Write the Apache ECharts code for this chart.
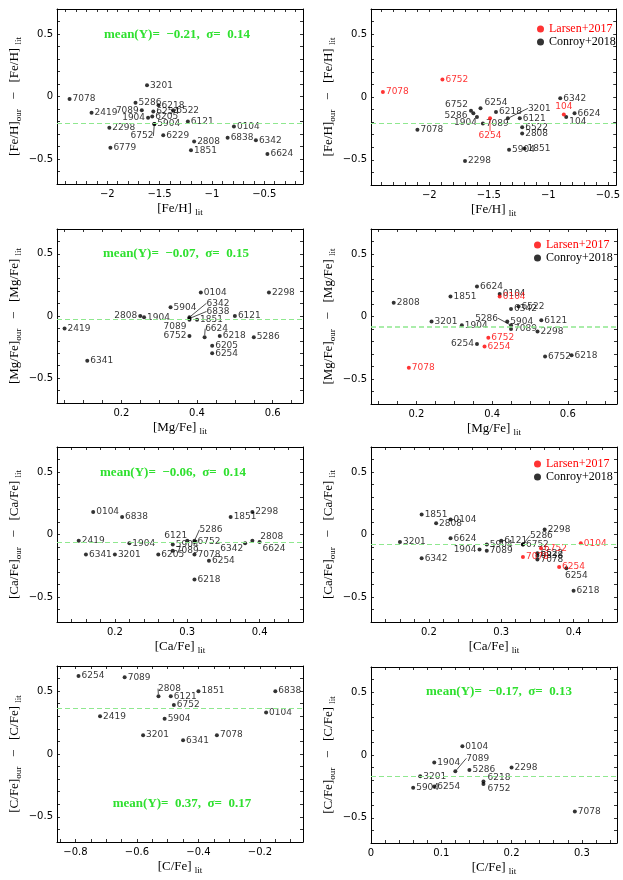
<!DOCTYPE html>
<html>
<head>
<meta charset="utf-8">
<script src="https://cdn.jsdelivr.net/npm/echarts@6.0.0/dist/echarts.min.js"></script>
<style>
html,body{margin:0;padding:0;background:#fff;}
#container{width:623px;height:880px;}
</style>
</head>
<body>
<div id="container"></div>
<script>
// [Fe/H] vs lit, left panel
var feL_names = ['7078','2419','2298','6779','3201','5286','7089','6218','6254','6522','1904','6205','5904','6752','6229','6121','2808','1851','0104','6838','6342','6624'];
var feL_x = [-2.36,-2.15,-1.98,-1.97,-1.62,-1.73,-1.67,-1.51,-1.56,-1.37,-1.61,-1.57,-1.55,-1.55,-1.465,-1.23,-1.17,-1.20,-0.79,-0.85,-0.58,-0.47];
var feL_y = [-0.02,-0.13,-0.25,-0.41,0.09,-0.05,-0.11,-0.07,-0.12,-0.11,-0.17,-0.16,-0.22,-0.22,-0.31,-0.20,-0.36,-0.43,-0.24,-0.33,-0.35,-0.46];
var feL_mean = -0.21;
var feL_text = 'mean(Y)=  \u22120.21,  \u03c3=  0.14';

// [Fe/H] right panel (Larsen / Conroy)
var feR_lar_names = ['7078','6752','6254','104'];
var feR_lar_x = [-2.39,-1.89,-1.49,-0.87];
var feR_lar_y = [0.04,0.14,-0.17,-0.14];
var feR_con_names = ['7078','6752','5286','1904','6254','7089','6218','3201','6121','6522','2808','5904','1851','2298','6342','104','6624'];
var feR_con_x = [-2.10,-1.65,-1.63,-1.60,-1.57,-1.55,-1.44,-1.34,-1.24,-1.22,-1.22,-1.33,-1.20,-1.70,-0.90,-0.85,-0.78];
var feR_con_y = [-0.26,-0.11,-0.13,-0.16,-0.09,-0.21,-0.12,-0.17,-0.17,-0.24,-0.29,-0.42,-0.41,-0.51,-0.01,-0.16,-0.13];
var feR_mean = -0.21;

// [Mg/Fe] left
var mgL_names = ['2419','6341','2808','1904','5904','0104','6342','6838','7089','1851','6121','2298','6752','6624','6218','5286','6205','6254'];
var mgL_x = [0.05,0.11,0.25,0.26,0.33,0.41,0.38,0.38,0.38,0.40,0.50,0.59,0.38,0.42,0.46,0.55,0.44,0.44];
var mgL_y = [-0.10,-0.36,0.0,-0.01,0.07,0.19,-0.01,-0.02,-0.03,-0.03,0.0,0.19,-0.16,-0.17,-0.16,-0.17,-0.24,-0.30];
var mgL_mean = -0.03;
var mgL_text = 'mean(Y)=  \u22120.07,  \u03c3=  0.15';

// [Mg/Fe] right
var mgR_lar_names = ['0104','6752','6254','7078'];
var mgR_lar_x = [0.42,0.39,0.38,0.18];
var mgR_lar_y = [0.16,-0.17,-0.24,-0.41];
var mgR_con_names = ['2808','1851','6624','0104','6522','6342','3201','1904','5904','5286','7089','2298','6121','6254','6752','6218'];
var mgR_con_x = [0.14,0.29,0.36,0.42,0.47,0.45,0.24,0.32,0.44,0.45,0.45,0.52,0.53,0.36,0.54,0.61];
var mgR_con_y = [0.11,0.16,0.24,0.18,0.08,0.06,-0.04,-0.07,-0.04,-0.07,-0.10,-0.12,-0.03,-0.22,-0.32,-0.31];
var mgR_mean = -0.08;

// [Ca/Fe] left
var caL_names = ['0104','6838','2419','1904','6341','3201','6205','6121','5904','7089','5286','6752','7078','6254','6218','1851','2298','6342','2808','6624'];
var caL_x = [0.17,0.21,0.15,0.22,0.16,0.20,0.26,0.30,0.28,0.28,0.31,0.31,0.31,0.33,0.31,0.36,0.39,0.38,0.39,0.40];
var caL_y = [0.18,0.14,-0.05,-0.07,-0.16,-0.16,-0.16,-0.05,-0.08,-0.13,-0.05,-0.06,-0.16,-0.21,-0.36,0.14,0.18,-0.07,-0.05,-0.06];
var caL_mean = -0.06;
var caL_text = 'mean(Y)=  \u22120.06,  \u03c3=  0.14';

// [Ca/Fe] right
var caR_lar_names = ['0104','6752','7078','6254'];
var caR_lar_x = [0.41,0.355,0.33,0.38];
var caR_lar_y = [-0.07,-0.11,-0.18,-0.26];
var caR_con_names = ['1851','0104','2808','6624','3201','6342','5904','1904','7089','6121','6752','5286','2298','6522','6838','7078','6254','6218'];
var caR_con_x = [0.19,0.23,0.21,0.23,0.16,0.19,0.28,0.27,0.28,0.30,0.33,0.33,0.36,0.35,0.35,0.35,0.39,0.40];
var caR_con_y = [0.16,0.12,0.09,-0.03,-0.06,-0.19,-0.08,-0.12,-0.13,-0.05,-0.08,-0.08,0.04,-0.15,-0.17,-0.20,-0.27,-0.45];
var caR_mean = -0.08;

// [C/Fe] left
var cL_names = ['6254','7089','2808','6121','1851','6752','6838','2419','5904','0104','3201','6341','7078'];
var cL_x = [-0.79,-0.64,-0.53,-0.49,-0.40,-0.48,-0.15,-0.72,-0.51,-0.18,-0.58,-0.45,-0.34];
var cL_y = [0.62,0.61,0.46,0.46,0.50,0.39,0.50,0.30,0.28,0.33,0.15,0.11,0.15];
var cL_mean = 0.36;
var cL_text = 'mean(Y)=  0.37,  \u03c3=  0.17';

// [C/Fe] right
var cR_names = ['0104','1904','7089','5286','2298','3201','5904','6254','6218','6752','7078'];
var cR_x = [0.13,0.09,0.12,0.14,0.20,0.07,0.06,0.09,0.16,0.16,0.29];
var cR_y = [0.07,-0.06,-0.13,-0.12,-0.10,-0.17,-0.26,-0.25,-0.21,-0.23,-0.45];
var cR_mean = -0.17;
var cR_text = 'mean(Y)=  \u22120.17,  \u03c3=  0.13';

// label placement: r/l/t/b or [side, dx, dy, leaderLine]
var feL_lab = ['r','r','r','r','r','r','l','r','r','r','l','r','r',['l',2,12,1],'r','r','r','r','r','r','r','r'];
var feR_lar_lab = ['r','r',['b',0,10,1],'t'];
var feR_con_lab = ['r',['l',0,-6,0],['l',-3,2,0],['l',3,6,0],['r',1,-6,0],'r','r',['r',17,-10,1],'r','r','r','r','r','r','r',['r',0,5,0],'r'];
var mgL_lab = ['r','r','l','r','r','r',['r',14,-14,1],['r',14,-7,1],['l',0,7,0],'r','r','r','l',['t',12,-1,1],'r','r','r','r'];
var mgR_lar_lab = ['r','r','r','r'];
var mgR_con_lab = ['r','r','r','r','r','r','r','r','r',['l',-10,-7,1],'r','r','r','l','r','r'];
var caL_lab = ['r','r','r','r','r','r','r',['l',3,-5,0],'r','r',['r',2,-11,1],'r','r','r','r','r','r',['l',1,5,0],['r',5,-4,0],['r',0,7,0]];
var caR_lar_lab = ['r','r','r','r'];
var caR_con_lab = ['r','r','r','r','r','r','r','l','r','r','r',['r',4,-9,1],'r','r','r','r',['b',10,0,0],'r'];
var cL_lab = ['r','r',['t',11,0,1],'r','r','r','r','r','r','r','r','r','r'];
var cR_lab = ['r','r',['r',8,-13,1],'r','r','r','r','r',['r',1,-4,0],['r',1,5,0],'r'];

var RED = '#ff0000';
var GREEN_TXT = '#2fe02f';
var GREEN_LINE = '#8fe88f';
var posMap = {r:'right', l:'left', t:'top', b:'bottom'};

function tickFmt(step){
	return function(v){
		var k = v / step;
		if(Math.abs(k - Math.round(k)) > 1e-6){
			return '';
		}
		var s = (Math.round(v * 100) / 100).toString();
		return s.replace('-', '\u2212');
	};
}

function buildItems(names, xs, ys, labs, color){
	var items = [];
	for(var i=0;i<names.length;i++){
		var s = labs[i];
		var side = typeof s === 'string' ? s : s[0];
		var it = {name:names[i], value:[xs[i], ys[i]], label:{position:posMap[side]}};
		if(typeof s !== 'string' && s[3]){
			it.labelLine = {show:true, lineStyle:{color:color, width:0.7, opacity:1}};
		}
		items.push(it);
	}
	return items;
}

function scatter(idx, name, names, xs, ys, labs, color, mean){
	var ser = {
		type:'scatter', name:name, xAxisIndex:2*idx, yAxisIndex:2*idx,
		symbol:'circle', symbolSize:4,
		itemStyle:{color:color},
		label:{show:true, distance:1, formatter:function(p){return p.name;},
			fontFamily:'DejaVu Sans', fontSize:9, color:color},
		labelLayout:function(p){
			var s = labs[p.dataIndex];
			if(typeof s === 'string'){ return {}; }
			return {dx:s[1], dy:s[2]};
		},
		data:buildItems(names, xs, ys, labs, color),
		z:color === RED ? 4 : 3
	};
	if(mean !== null){
		ser.markLine = {
			silent:true, symbol:'none', label:{show:false},
			lineStyle:{color:GREEN_LINE, type:[5,3], width:1},
			data:[{yAxis:mean}]
		};
	}
	return ser;
}

// grid boxes and axis set-up per panel
var panels = [
	{box:[57,9,246,175], xr:[-2.48,-0.13], minor:0.1, major:0.5, el:'Fe/H'},
	{box:[371,9,246,176], xr:[-2.49,-0.43], minor:0.1, major:0.5, el:'Fe/H'},
	{box:[57,229,246,174], xr:[0.03,0.68], minor:0.05, major:0.2, el:'Mg/Fe'},
	{box:[371,229,246,175], xr:[0.08,0.73], minor:0.05, major:0.2, el:'Mg/Fe'},
	{box:[57,447,246,175], xr:[0.12,0.46], minor:0.02, major:0.1, el:'Ca/Fe'},
	{box:[371,447,246,175], xr:[0.12,0.46], minor:0.02, major:0.1, el:'Ca/Fe'},
	{box:[57,666,246,176], xr:[-0.86,-0.06], minor:0.05, major:0.2, el:'C/Fe'},
	{box:[371,667,246,176], xr:[0,0.35], minor:0.02, major:0.1, el:'C/Fe'}
];

var nameStyle = {
	fontFamily:'Liberation Serif', fontSize:13, color:'#000', lineHeight:16,
	rich:{s:{fontFamily:'Liberation Serif', fontSize:9, color:'#000', lineHeight:9, verticalAlign:'bottom'}}
};

var grids = [], xAxes = [], yAxes = [];
$each = function(arr, fn){ for(var i=0;i<arr.length;i++){ fn(i, arr[i]); } };
$each(panels, function(i, p){
	grids.push({left:p.box[0], top:p.box[1], width:p.box[2], height:p.box[3], containLabel:false});
	var tick = {show:true, inside:true, length:3, lineStyle:{color:'#000', width:0.8}};
	var line = {show:true, onZero:false, lineStyle:{color:'#000', width:1}};
	xAxes.push({
		gridIndex:i, type:'value', position:'bottom', min:p.xr[0], max:p.xr[1],
		minInterval:p.minor, maxInterval:p.minor,
		axisLine:line, axisTick:tick, splitLine:{show:false},
		axisLabel:{margin:5, fontFamily:'DejaVu Sans', fontSize:10, color:'#000', formatter:tickFmt(p.major)},
		name:'[' + p.el + '] {s|lit}', nameLocation:'middle', nameGap:17, nameTextStyle:nameStyle
	});
	xAxes.push({
		gridIndex:i, type:'value', position:'top', min:p.xr[0], max:p.xr[1],
		minInterval:p.minor, maxInterval:p.minor,
		axisLine:line, axisTick:tick, splitLine:{show:false}, axisLabel:{show:false}
	});
	yAxes.push({
		gridIndex:i, type:'value', position:'left', min:-0.7, max:0.7,
		minInterval:0.1, maxInterval:0.1,
		axisLine:line, axisTick:tick, splitLine:{show:false},
		axisLabel:{margin:4, fontFamily:'DejaVu Sans', fontSize:10, color:'#000', formatter:tickFmt(0.5)},
		name:'[' + p.el + ']{s|our}   \u2212   [' + p.el + '] {s|lit}',
		nameLocation:'middle', nameGap:34, nameTextStyle:nameStyle
	});
	yAxes.push({
		gridIndex:i, type:'value', position:'right', min:-0.7, max:0.7,
		minInterval:0.1, maxInterval:0.1,
		axisLine:line, axisTick:tick, splitLine:{show:false}, axisLabel:{show:false}
	});
});

var series = [
	scatter(0, 'fe', feL_names, feL_x, feL_y, feL_lab, '#000', feL_mean),
	scatter(1, 'Conroy+2018', feR_con_names, feR_con_x, feR_con_y, feR_con_lab, '#000', feR_mean),
	scatter(1, 'Larsen+2017', feR_lar_names, feR_lar_x, feR_lar_y, feR_lar_lab, RED, null),
	scatter(2, 'mg', mgL_names, mgL_x, mgL_y, mgL_lab, '#000', mgL_mean),
	scatter(3, 'Conroy+2018', mgR_con_names, mgR_con_x, mgR_con_y, mgR_con_lab, '#000', mgR_mean),
	scatter(3, 'Larsen+2017', mgR_lar_names, mgR_lar_x, mgR_lar_y, mgR_lar_lab, RED, null),
	scatter(4, 'ca', caL_names, caL_x, caL_y, caL_lab, '#000', caL_mean),
	scatter(5, 'Conroy+2018', caR_con_names, caR_con_x, caR_con_y, caR_con_lab, '#000', caR_mean),
	scatter(5, 'Larsen+2017', caR_lar_names, caR_lar_x, caR_lar_y, caR_lar_lab, RED, null),
	scatter(6, 'c', cL_names, cL_x, cL_y, cL_lab, '#000', cL_mean),
	scatter(7, 'c2', cR_names, cR_x, cR_y, cR_lab, '#000', cR_mean)
];
series[4].markLine.lineStyle.width = 1.6;

function legendAt(left, top){
	return {
		left:left, top:top, padding:0, orient:'vertical', icon:'circle', itemWidth:7, itemHeight:7, itemGap:1,
		selectedMode:false,
		textStyle:{fontFamily:'Liberation Serif', fontSize:12, lineHeight:11, color:'#000'},
		data:[{name:'Larsen+2017', textStyle:{color:RED}}, {name:'Conroy+2018'}]
	};
}

function meanText(x, y, txt){
	return {type:'text', x:x, y:y, z:10,
		style:{text:txt, fill:GREEN_TXT, font:'bold 13px "Liberation Serif"', textAlign:'center', textVerticalAlign:'middle'}};
}

var option = {
	animation:false,
	backgroundColor:'#fff',
	grid:grids,
	xAxis:xAxes,
	yAxis:yAxes,
	legend:[legendAt(537, 23), legendAt(534, 239), legendAt(534, 458)],
	graphic:[
		meanText(177, 35, feL_text),
		meanText(176, 254, mgL_text),
		meanText(173, 473, caL_text),
		meanText(182, 804, cL_text),
		meanText(499, 692, cR_text)
	],
	series:series
};

var chart = echarts.init(document.getElementById('container'));
chart.setOption(option);
</script>
</body>
</html>
